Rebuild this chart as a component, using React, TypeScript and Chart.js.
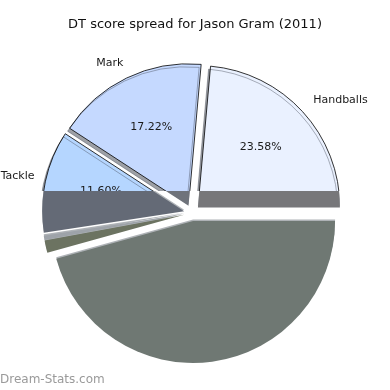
import React, { useEffect, useRef } from "react";
import { Chart, registerables } from "chart.js";

Chart.register(...registerables);

// ---- data (matplotlib order: counter-clockwise from 3 o'clock) ----
const chartTitle = "DT score spread for Jason Gram (2011)";
const categories = ["Handballs", "Mark", "Tackle", "Hitouts", "Goals", "Kicks"];
const percentages = [23.58, 17.22, 11.6, 0.5, 1.4, 45.7];
const topColors = ["#eaf1ff", "#c5d9ff", "#b5d6ff", "#a8c8f0", "#d0dcb0", "#d8e6e0"];
const lowerColors = ["#77777a", "#6f737b", "#646a76", "#9ea3a9", "#6c7361", "#6f7873"];
const watermark = "Dream-Stats.com";

// ---- styling ----
const W = 390;
const H = 390;
const CUT_Y = 191;
const EXPLODE = 8;
const RADIUS = 142;
const FONT = "'DejaVu Sans', sans-serif";

export default function App() {
  const ref = useRef<HTMLCanvasElement>(null);

  useEffect(() => {
    if (!ref.current) return;
    const rev = <T,>(a: T[]) => a.slice().reverse();
    const revTop = rev(topColors);
    const revLow = rev(lowerColors);
    const revLabels = rev(categories);
    const revData = rev(percentages);

    const pieDecor = {
      id: "pieDecor",
      beforeDatasetsDraw(chart: any) {
        const meta = chart.getDatasetMeta(0);
        meta.data.forEach((el: any, i: number) => {
          if (el.__patched) return;
          const orig = el.draw;
          el.draw = function (ctx: CanvasRenderingContext2D) {
            const mid = (this.startAngle + this.endAngle) / 2;
            const dx = Math.cos(mid) * EXPLODE;
            const dy = Math.sin(mid) * EXPLODE;
            const saved = this.options;
            // upper part, real colours with edge
            ctx.save();
            ctx.beginPath();
            ctx.rect(0, 0, W, CUT_Y);
            ctx.clip();
            ctx.shadowColor = "rgba(60,66,78,0.5)";
            ctx.shadowOffsetX = -2;
            ctx.shadowOffsetY = 3;
            ctx.shadowBlur = 0;
            ctx.translate(dx, dy);
            orig.call(this, ctx);
            ctx.restore();
            // lower part, shadow colours
            const lowOpts = Object.create(saved);
            Object.defineProperty(lowOpts, "backgroundColor", { value: revLow[i] });
            Object.defineProperty(lowOpts, "borderWidth", { value: 0 });
            Object.defineProperty(lowOpts, "borderColor", { value: "rgba(0,0,0,0)" });
            ctx.save();
            ctx.beginPath();
            ctx.rect(0, CUT_Y, W, H - CUT_Y);
            ctx.clip();
            ctx.shadowColor = "rgba(120,126,134,0.6)";
            ctx.shadowOffsetX = 0;
            ctx.shadowOffsetY = -1.5;
            ctx.shadowBlur = 0;
            ctx.translate(dx, dy);
            this.options = lowOpts;
            orig.call(this, ctx);
            this.options = saved;
            ctx.restore();
          };
          el.__patched = true;
        });
      },
      afterDatasetsDraw(chart: any) {
        const ctx: CanvasRenderingContext2D = chart.ctx;
        const meta = chart.getDatasetMeta(0);
        ctx.save();
        ctx.beginPath();
        ctx.rect(0, 0, W, CUT_Y);
        ctx.clip();
        ctx.fillStyle = "#1a1a1a";
        ctx.font = `11px ${FONT}`;
        ctx.textBaseline = "middle";
        meta.data.forEach((el: any, i: number) => {
          const mid = (el.startAngle + el.endAngle) / 2;
          const r = el.outerRadius;
          const cx = el.x + Math.cos(mid) * EXPLODE;
          const cy = el.y + Math.sin(mid) * EXPLODE;
          const lx = cx + Math.cos(mid) * r * 1.1;
          const ly = cy + Math.sin(mid) * r * 1.1 - 2.5;
          ctx.textAlign = Math.cos(mid) >= 0 ? "left" : "right";
          ctx.fillText(revLabels[i], lx + (Math.cos(mid) >= 0 ? 0 : 3), ly);
          const px = cx + Math.cos(mid) * r * 0.6;
          const py = cy + Math.sin(mid) * r * 0.6 - 2.5;
          ctx.textAlign = "center";
          ctx.fillText(revData[i].toFixed(2) + "%", px, py);
        });
        ctx.restore();
      },
      afterDraw(chart: any) {
        const ctx: CanvasRenderingContext2D = chart.ctx;
        ctx.save();
        ctx.fillStyle = "#111";
        ctx.font = `13px ${FONT}`;
        ctx.textAlign = "center";
        ctx.textBaseline = "middle";
        ctx.fillText(chartTitle, W / 2, 25);
        ctx.fillStyle = "#9a9a9a";
        ctx.font = `12px ${FONT}`;
        ctx.textAlign = "left";
        ctx.fillText(watermark, 0, 380);
        ctx.restore();
      },
    };

    const chart = new Chart(ref.current, {
      type: "pie",
      data: {
        labels: revLabels,
        datasets: [
          {
            data: revData,
            backgroundColor: revTop,
            borderColor: "#000",
            borderWidth: 0.8,
            offset: 0,
            hoverOffset: 0,
          },
        ],
      },
      options: {
        animation: false,
        responsive: false,
        devicePixelRatio: 1,
        rotation: 90,
        radius: RADIUS,
        layout: { padding: { left: 10, right: 16, top: 58, bottom: 22 } },
        plugins: {
          legend: { display: false },
          tooltip: { enabled: false },
          title: { display: false },
        },
        events: [],
      },
      plugins: [pieDecor],
    } as any);
    return () => chart.destroy();
  }, []);

  return (
    <div style={{ position: "absolute", left: 0, top: 0, width: W, height: H, background: "#fff" }}>
      <canvas ref={ref} width={W} height={H} style={{ width: W, height: H, display: "block" }} />
    </div>
  );
}
